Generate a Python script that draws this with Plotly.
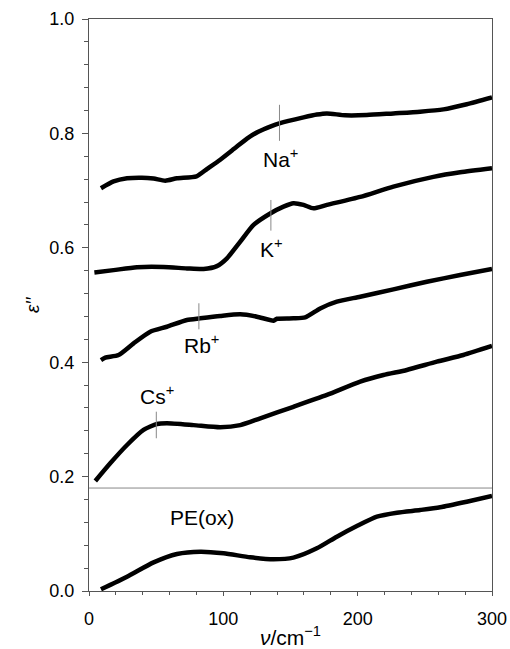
import plotly.graph_objects as go

# ---- data ----
na_x = [8.9, 18.3, 28.3, 39.4, 48.1, 56.8, 65.5, 80, 88, 97.7, 108, 117.6, 126, 134.9, 142.3, 159.7, 169.6, 177.1, 190.7, 206.8, 226.6, 246.5, 263.8, 281.2, 300]
na_y = [0.704, 0.716, 0.7215, 0.7226, 0.721, 0.7173, 0.7215, 0.725, 0.738, 0.754, 0.773, 0.791, 0.803, 0.812, 0.818, 0.828, 0.833, 0.835, 0.8316, 0.832, 0.835, 0.838, 0.842, 0.851, 0.863]

k_x = [4, 18.3, 35.7, 55.5, 72.9, 85.3, 95.2, 102.7, 112.6, 122.5, 134.9, 144.8, 152.2, 159.7, 167.1, 177.1, 201.9, 226.6, 256.4, 276.3, 300]
k_y = [0.557, 0.561, 0.566, 0.5664, 0.564, 0.563, 0.568, 0.5816, 0.6107, 0.640, 0.660, 0.672, 0.678, 0.675, 0.669, 0.675, 0.689, 0.707, 0.724, 0.732, 0.739]

rb_x = [8.9, 12.1, 22, 33.2, 45.6, 58, 72.9, 82.8, 97.7, 112.6, 125, 137.4, 139.9, 152.2, 160.9, 172.1, 184.5, 201.9, 226.6, 251.5, 276.3, 300]
rb_y = [0.4038, 0.408, 0.4126, 0.433, 0.4533, 0.462, 0.4738, 0.4767, 0.4808, 0.4837, 0.4796, 0.4726, 0.476, 0.4767, 0.4784, 0.494, 0.5058, 0.5145, 0.5274, 0.5407, 0.5524, 0.563]

cs_x = [4.7, 15.8, 28.3, 40.6, 50.6, 58, 77.8, 97.7, 112.6, 127.5, 152.2, 177.1, 201.9, 219.2, 236.6, 258.9, 278.7, 300]
cs_y = [0.1923, 0.2232, 0.2552, 0.2815, 0.292, 0.2932, 0.290, 0.2862, 0.290, 0.302, 0.322, 0.3427, 0.366, 0.3776, 0.3864, 0.4009, 0.4126, 0.4283]

pe_x = [8.9, 28.3, 48.1, 65.5, 82.8, 100.2, 120, 137.4, 152.2, 169.6, 184.5, 199.4, 214.3, 229.2, 246.5, 261.4, 281.2, 300]
pe_y = [0.003, 0.025, 0.050, 0.0647, 0.0688, 0.066, 0.0589, 0.0554, 0.0583, 0.0746, 0.095, 0.1136, 0.130, 0.1369, 0.1416, 0.1463, 0.156, 0.166]

series = [(na_x, na_y), (k_x, k_y), (rb_x, rb_y), (cs_x, cs_y), (pe_x, pe_y)]

# band markers: (x, y_low, y_high)
ion_mark_x = [141.8, 135.4, 81.8, 50.1]
ion_mark_lo = [0.787, 0.630, 0.4575, 0.267]
ion_mark_hi = [0.850, 0.6836, 0.503, 0.3135]

# labels
label_text = ["Na<sup>+</sup>", "K<sup>+</sup>", "Rb<sup>+</sup>", "Cs<sup>+</sup>", "PE(ox)"]
label_x = [142.5, 135.7, 83.5, 50.9, 84]
label_y = [0.757, 0.600, 0.432, 0.343, 0.129]

separator_y = 0.18

x_ticks = [0, 100, 200, 300]
y_ticks = [0.0, 0.2, 0.4, 0.6, 0.8, 1.0]

y_title = "<i>ε′′</i>"
x_title = "<i>ν</i>/cm<sup>−1</sup>"

FONT = "Liberation Sans, Arial, Helvetica, sans-serif"
AXC = "#555555"

fig = go.Figure()
for sx, sy in series:
    fig.add_trace(go.Scatter(x=sx, y=sy, mode="lines",
                             line=dict(color="black", width=4.5, shape="spline", smoothing=0.6),
                             showlegend=False, hoverinfo="skip"))

for mx, lo, hi in zip(ion_mark_x, ion_mark_lo, ion_mark_hi):
    fig.add_shape(type="line", xref="x", yref="y", x0=mx, x1=mx, y0=lo, y1=hi,
                  line=dict(color="#888888", width=1))

fig.add_shape(type="line", xref="x", yref="y", x0=0, x1=300, y0=separator_y, y1=separator_y,
              line=dict(color="#888888", width=1))

for t, lx, ly in zip(label_text, label_x, label_y):
    fig.add_annotation(x=lx, y=ly, text=t, showarrow=False, xref="x", yref="y",
                       font=dict(family=FONT, size=21, color="black"))

# y-axis title placed in the left margin
fig.add_annotation(x=0, y=0.5, xref="paper", yref="paper", xshift=-69.5,
                   text=y_title, textangle=-90, showarrow=False,
                   font=dict(family=FONT, size=19, color="black"))

fig.update_layout(
    width=510, height=649,
    margin=dict(l=88.5, r=18, t=19, b=58),
    paper_bgcolor="white", plot_bgcolor="white",
    font=dict(family=FONT, size=18, color="black"),
)
fig.update_xaxes(
    range=[0, 300], tickvals=x_ticks, ticktext=[str(v) for v in x_ticks],
    showline=True, linecolor=AXC, linewidth=1, mirror=True,
    ticks="outside", ticklen=4, tickcolor=AXC,
    minor=dict(dtick=20, ticks="outside", ticklen=3, tickcolor=AXC),
    showgrid=False, zeroline=False, automargin=False,
    tickfont=dict(size=18), ticklabelstandoff=7,
    title=dict(text=x_title, font=dict(size=21)),
)
fig.update_yaxes(
    range=[0, 1.0], tickvals=y_ticks, ticktext=["%.1f" % v for v in y_ticks],
    showline=True, linecolor=AXC, linewidth=1, mirror=True,
    ticks="outside", ticklen=6, tickcolor=AXC,
    minor=dict(dtick=0.04, ticks="outside", ticklen=4, tickcolor=AXC),
    showgrid=False, zeroline=False, automargin=False,
    tickfont=dict(size=18), ticklabelstandoff=4,
)

fig.write_html("out.html")
